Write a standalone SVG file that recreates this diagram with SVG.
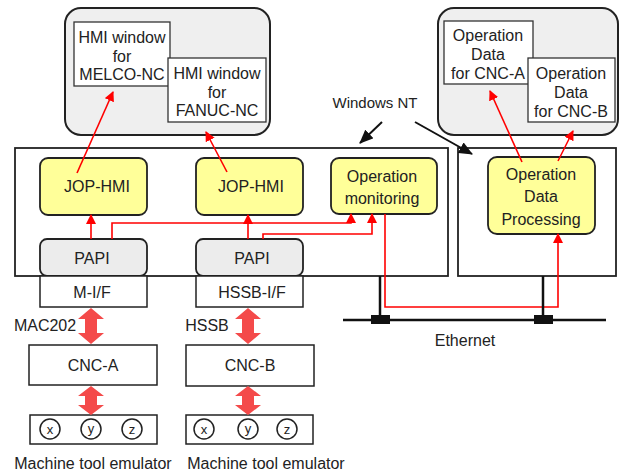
<svg xmlns="http://www.w3.org/2000/svg" width="621" height="473" viewBox="0 0 621 473">
<defs>
<style>
text{font-family:"Liberation Sans",Arial,sans-serif;font-size:16px;fill:#222;text-anchor:middle}
.cont{fill:#efefef;stroke:#222;stroke-width:2}
.win{fill:#fff;stroke:#333;stroke-width:1.3}
.sys{fill:#fff;stroke:#222;stroke-width:1.8}
.yel{fill:#ffff99;stroke:#222;stroke-width:1.8}
.papi{fill:#ececec;stroke:#222;stroke-width:1.8}
.box{fill:#fff;stroke:#222;stroke-width:1.5}
.red{fill:none;stroke:#f00;stroke-width:1.6;marker-end:url(#ra)}
.redl{fill:none;stroke:#f00;stroke-width:1.3}
.blk{fill:none;stroke:#111;stroke-width:2;marker-end:url(#ba)}
.fat{fill:#f44a4a}
.eth{stroke:#111;stroke-width:2.5}
.circ{fill:#fff;stroke:#222;stroke-width:1.5}
.small{font-size:13px}
</style>
<marker id="ra" markerWidth="10" markerHeight="10" refX="9" refY="5" orient="auto" markerUnits="userSpaceOnUse">
<path d="M0,0 L10,5 L0,10 z" fill="#f00"/>
</marker>
<marker id="ba" markerWidth="14" markerHeight="12" refX="13" refY="6" orient="auto" markerUnits="userSpaceOnUse">
<path d="M0,0 L14,6 L0,12 z" fill="#111"/>
</marker>
</defs>

<g id="hmi-display">
<rect class="cont" x="65" y="8" width="205" height="127" rx="16"/>
</g>
<g id="hmi-melco">
<rect class="win" x="74" y="22" width="96" height="64"/>
<text x="122" y="43">HMI window</text>
<text x="122" y="62">for</text>
<text x="122" y="80">MELCO-NC</text>
</g>
<g id="hmi-fanuc">
<rect class="win" x="168" y="58" width="98" height="64"/>
<text x="217" y="79">HMI window</text>
<text x="217" y="98">for</text>
<text x="217" y="116">FANUC-NC</text>
</g>

<g id="opdata-display">
<rect class="cont" x="438" y="8" width="180" height="127" rx="16"/>
</g>
<g id="opdata-a">
<rect class="win" x="444" y="21" width="89" height="63"/>
<text x="488" y="41">Operation</text>
<text x="488" y="60">Data</text>
<text x="488" y="79">for CNC-A</text>
</g>
<g id="opdata-b">
<rect class="win" x="528" y="58" width="87" height="64"/>
<text x="571" y="79">Operation</text>
<text x="571" y="98">Data</text>
<text x="571" y="117">for CNC-B</text>
</g>

<g id="windows-nt-label">
<text x="375" y="108" style="font-size:15px">Windows NT</text>
</g>

<g id="pc-left">
<rect class="sys" x="15" y="148" width="433" height="128"/>
</g>
<g id="pc-right">
<rect class="sys" x="458" y="148" width="158" height="128"/>
</g>

<g id="jop-hmi-1">
<rect class="yel" x="40" y="158" width="107" height="57" rx="8"/>
<text x="97" y="192">JOP-HMI</text>
</g>
<g id="jop-hmi-2">
<rect class="yel" x="196" y="158" width="107" height="57" rx="8"/>
<text x="251" y="192">JOP-HMI</text>
</g>
<g id="op-monitoring">
<rect class="yel" x="331" y="158" width="106" height="56" rx="8"/>
<text x="382" y="182">Operation</text>
<text x="382" y="204">monitoring</text>
</g>
<g id="op-data-processing">
<rect class="yel" x="488" y="157" width="107" height="77" rx="9"/>
<text x="541" y="180">Operation</text>
<text x="541" y="202">Data</text>
<text x="541" y="225">Processing</text>
</g>

<g id="papi-1">
<rect class="papi" x="40" y="239" width="107" height="37" rx="7"/>
<text x="92" y="264">PAPI</text>
</g>
<g id="mif">
<rect class="box" x="40" y="276" width="107" height="31"/>
<text x="92" y="298">M-I/F</text>
</g>
<g id="papi-2">
<rect class="papi" x="196" y="239" width="107" height="37" rx="7"/>
<text x="252" y="264">PAPI</text>
</g>
<g id="hssb-if">
<rect class="box" x="196" y="276" width="107" height="31"/>
<text x="252" y="298">HSSB-I/F</text>
</g>

<g id="cnc-a">
<rect class="box" x="29" y="345" width="128" height="40"/>
<text x="93" y="371">CNC-A</text>
</g>
<g id="cnc-b">
<rect class="box" x="186" y="345" width="128" height="41"/>
<text x="250" y="371">CNC-B</text>
</g>

<g id="emulator-a">
<rect class="box" x="30" y="415" width="127" height="29"/>
<circle class="circ" cx="50" cy="429" r="10"/>
<circle class="circ" cx="91" cy="429" r="10"/>
<circle class="circ" cx="132" cy="429" r="10"/>
<text class="small" x="50" y="434">x</text>
<text class="small" x="91" y="433">y</text>
<text class="small" x="132" y="434">z</text>
<text x="93" y="469">Machine tool emulator</text>
</g>
<g id="emulator-b">
<rect class="box" x="186" y="415" width="127" height="29"/>
<circle class="circ" cx="204" cy="429" r="10"/>
<circle class="circ" cx="248" cy="429" r="10"/>
<circle class="circ" cx="287" cy="429" r="10"/>
<text class="small" x="204" y="434">x</text>
<text class="small" x="248" y="433">y</text>
<text class="small" x="287" y="434">z</text>
<text x="266" y="469">Machine tool emulator</text>
</g>

<g id="labels">
<text x="45" y="331">MAC202</text>
<text x="207" y="331">HSSB</text>
<text x="465" y="346">Ethernet</text>
</g>

<g id="connectors">
<!-- Windows NT pointers -->
<line class="blk" x1="382" y1="122" x2="360" y2="143"/>
<line class="blk" x1="415" y1="122" x2="472" y2="154"/>
<!-- HMI arrows -->
<line class="red" x1="77" y1="173" x2="113" y2="92"/>
<line class="red" x1="227" y1="172" x2="206" y2="132"/>
<line class="red" x1="522" y1="162" x2="490" y2="91"/>
<line class="red" x1="558" y1="161" x2="573" y2="131"/>
<!-- PAPI to JOP-HMI -->
<line class="red" x1="91" y1="239" x2="91" y2="215"/>
<line class="red" x1="248" y1="239" x2="248" y2="215"/>
<!-- PAPI to Operation monitoring -->
<polyline class="red" points="112,239 112,223 351,223 351,214"/>
<polyline class="red" points="263,239 263,234 372,234 372,214"/>
<!-- Operation monitoring to Operation Data Processing -->
<polyline class="red" points="385,214 385,307 558,307 558,234"/>
<!-- Ethernet -->
<line class="eth" x1="343" y1="320" x2="606" y2="320"/>
<line class="eth" x1="380" y1="276" x2="380" y2="320"/>
<line class="eth" x1="543" y1="276" x2="543" y2="320"/>
<rect x="371" y="315" width="19" height="9" fill="#111"/>
<rect x="534" y="315" width="19" height="9" fill="#111"/>
<!-- fat double arrows -->
<path class="fat" d="M91,308 L104,319 L97,319 L97,333 L104,333 L91,344 L78,333 L85,333 L85,319 L78,319 z"/>
<path class="fat" d="M248,308 L261,319 L254,319 L254,333 L261,333 L248,344 L235,333 L242,333 L242,319 L235,319 z"/>
<path class="fat" d="M91,386 L104,396 L97,396 L97,405 L104,405 L91,415 L78,405 L85,405 L85,396 L78,396 z"/>
<path class="fat" d="M248,386 L261,396 L254,396 L254,405 L261,405 L248,415 L235,405 L242,405 L242,396 L235,396 z"/>
</g>
</svg>
